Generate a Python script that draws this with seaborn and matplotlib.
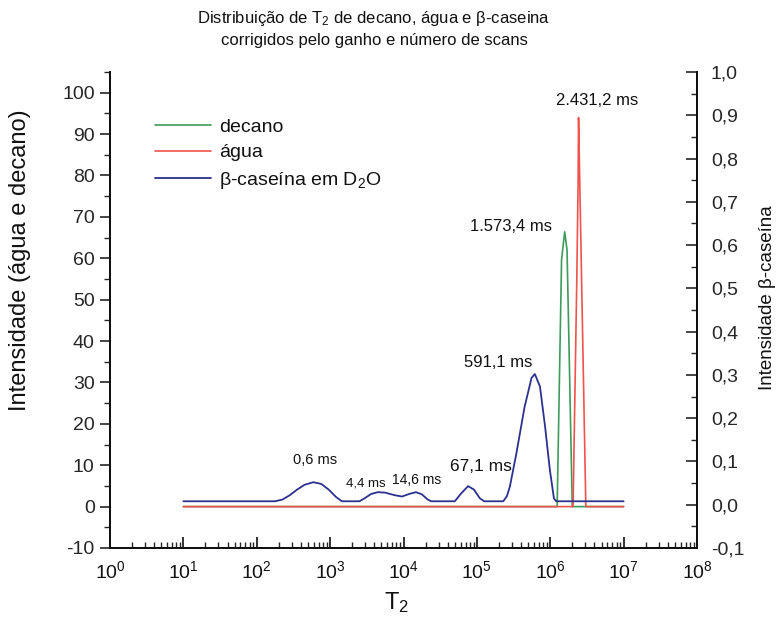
import numpy as np
import pandas as pd
import matplotlib
matplotlib.use("Agg")
import matplotlib.pyplot as plt
import matplotlib.ticker as mticker
from matplotlib.lines import Line2D
import seaborn as sns

# ---- data (T2 in microseconds) ----
t2_blue = [10, 178, 224, 282, 355, 447, 589, 759, 955, 1202, 1445, 2512, 3020, 3631,
           4467, 5623, 7586, 9550, 12020, 14790, 17780, 21380, 23990, 50120, 60260,
           75860, 91200, 109600, 125900, 229100, 257000, 281800, 346700, 446700,
           555900, 616600, 724400, 851100, 988600, 1122000, 1202000, 10000000]
int_blue = [0.008, 0.008, 0.012, 0.022, 0.035, 0.046, 0.052, 0.048, 0.035, 0.018, 0.008,
            0.008, 0.016, 0.025, 0.029, 0.028, 0.022, 0.019, 0.025, 0.029, 0.024, 0.012,
            0.008, 0.008, 0.025, 0.043, 0.035, 0.015, 0.008, 0.008, 0.020, 0.042, 0.120,
            0.226, 0.293, 0.302, 0.273, 0.180, 0.080, 0.015, 0.008, 0.008]

t2_green = [10, 1242000, 1426000, 1573000, 1694000, 1995000, 10000000]
int_green = [0, 0, 59.6, 66.4, 62.0, 0, 0]

t2_red = [10, 2046000, 2301000, 2399000, 2431000, 3055000, 10000000]
int_red = [0, 0, 55, 79, 94, 0, 0]

x_ticks = [1e0, 1e1, 1e2, 1e3, 1e4, 1e5, 1e6, 1e7, 1e8]
x_exps = [0, 1, 2, 3, 4, 5, 6, 7, 8]
left_ticks = [-10, 0, 10, 20, 30, 40, 50, 60, 70, 80, 90, 100]
right_ticks = [-0.1, 0.0, 0.1, 0.2, 0.3, 0.4, 0.5, 0.6, 0.7, 0.8, 0.9, 1.0]
series_names = ["decano", "água", "β-caseína em D$_2$O"]
peak_labels = ["0,6 ms", "4,4 ms", "14,6 ms", "67,1 ms", "591,1 ms", "1.573,4 ms", "2.431,2 ms"]

GREEN = "#3f9a5c"
RED = "#f0524c"
BLUE = "#2c308e"

sns.set_theme(style="ticks")
plt.rcParams['font.family'] = ['Liberation Sans', 'DejaVu Sans']
plt.rcParams['mathtext.fontset'] = 'custom'
plt.rcParams['mathtext.rm'] = 'Liberation Sans'
plt.rcParams['mathtext.it'] = 'Liberation Sans'
plt.rcParams['mathtext.default'] = 'regular'
plt.rcParams['axes.unicode_minus'] = False
plt.rcParams['text.color'] = '#111111'

fig = plt.figure(figsize=(7.77, 6.24), dpi=100)
ax = fig.add_axes([110/777, 1-548/624, (697-110)/777, (548-72)/624])
ax2 = ax.twinx()

df_g = pd.DataFrame({"T2": t2_green, "I": int_green})
df_r = pd.DataFrame({"T2": t2_red, "I": int_red})
df_b = pd.DataFrame({"T2": t2_blue, "I": int_blue})

sns.lineplot(data=df_g, x="T2", y="I", ax=ax, color=GREEN, lw=1.2, legend=False)
sns.lineplot(data=df_r, x="T2", y="I", ax=ax, color=RED, lw=1.2, legend=False)
sns.lineplot(data=df_b, x="T2", y="I", ax=ax2, color=BLUE, lw=1.3, legend=False)

ax.set_xscale('log')
ax.set_xlim(1, 1e8)
ax.set_ylim(-10, 105)
ax2.set_ylim(-0.1, 1.0)

ax.set_xticks(x_ticks)
ax.set_xticklabels([f"$10^{{{e}}}$" for e in x_exps])
ax.xaxis.set_minor_locator(mticker.LogLocator(base=10, subs=np.arange(2, 10), numticks=100))
ax.xaxis.set_minor_formatter(mticker.NullFormatter())
ax.tick_params(axis='x', which='major', direction='in', length=8, width=1.2, labelsize=14, pad=9, colors='#111111')
ax.tick_params(axis='x', which='minor', direction='in', length=4, width=1.0)

ax.set_yticks(left_ticks)
ax.yaxis.set_minor_locator(mticker.MultipleLocator(5))
ax.tick_params(axis='y', which='major', direction='out', length=7, width=1.2, labelsize=14, pad=4)
ax.tick_params(axis='y', which='minor', direction='out', length=4, width=1.0)

ax2.set_yticks(right_ticks)
ax2.set_yticklabels([f"{v:.1f}".replace('.', ',') for v in right_ticks])
ax2.yaxis.set_minor_locator(mticker.MultipleLocator(0.05))
ax2.tick_params(axis='y', which='major', direction='in', length=8, width=1.2, labelsize=14, pad=10)
ax2.tick_params(axis='y', which='minor', direction='in', length=4, width=1.0)

for a in (ax, ax2):
    a.spines['top'].set_visible(False)
    for s in ('left', 'right', 'bottom'):
        a.spines[s].set_linewidth(1.4)
        a.spines[s].set_color('#111111')
ax.set_xlabel("")
ax.set_ylabel("")
ax2.set_ylabel("")

# peak annotations (left-axis data coords)
ann_pos = [(617, 11.2, 10.5), (3090, 5.7, 9.5), (15140, 6.4, 10), (112200, 9.6, 12.5),
           (195000, 34.8, 12), (288400, 67.6, 12), (4416000, 98.2, 12)]
for txt, (xp, yp, fs) in zip(peak_labels, ann_pos):
    ax.text(xp, yp, txt, ha='center', va='center', fontsize=fs)

# legend
handles = [Line2D([], [], color=GREEN, lw=1.2), Line2D([], [], color=RED, lw=1.2),
           Line2D([], [], color=BLUE, lw=1.3)]
fig.legend(handles, series_names, loc='upper left', bbox_to_anchor=(155/777, 1-118/624),
           frameon=False, fontsize=14, handlelength=2.9, handletextpad=0.4,
           labelspacing=0.42, borderpad=0, borderaxespad=0)

# titles and labels
fig.text(374/777, 1-18/624, "Distribuição de T$_2$ de decano, água e β-caseina",
         ha='center', va='center', fontsize=12)
fig.text(374/777, 1-41/624, "corrigidos pelo ganho e número de scans",
         ha='center', va='center', fontsize=12)
fig.text(20/777, 1-260/624, "Intensidade (água e decano)", rotation=90,
         ha='center', va='center', fontsize=17)
fig.text(767/777, 1-298/624, "Intensidade β-caseína", rotation=90,
         ha='center', va='center', fontsize=13.5)
fig.text(397/777, 1-603/624, "T$_2$", ha='center', va='center', fontsize=17)

fig.savefig("out.png", dpi=100, facecolor='white')
